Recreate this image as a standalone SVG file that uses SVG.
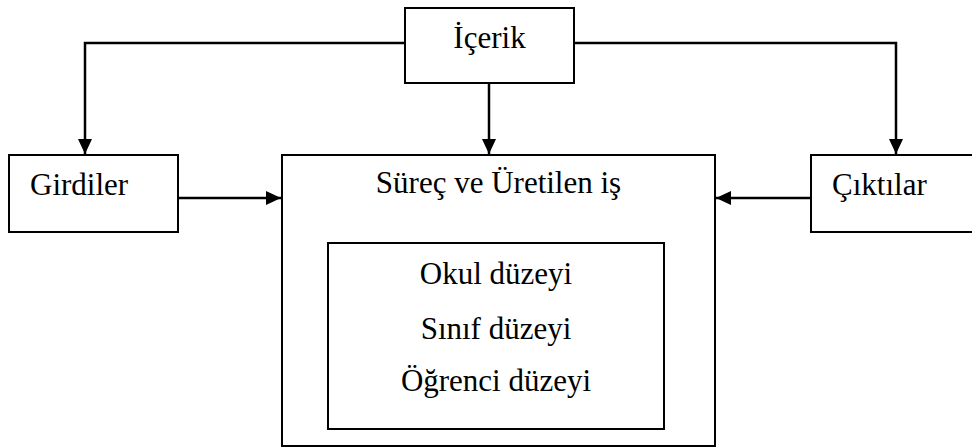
<svg xmlns="http://www.w3.org/2000/svg" width="972" height="448" viewBox="0 0 972 448">
<style>
.box{fill:#fff;stroke:#000;stroke-width:2}
.lbl{font-family:"Liberation Serif","Times New Roman",serif;font-size:31px;fill:#000}
.con{fill:none;stroke:#000;stroke-width:2.5}
</style>
<defs>
<marker id="arr" markerUnits="userSpaceOnUse" markerWidth="16" markerHeight="14" refX="15" refY="7" orient="auto">
<path d="M0,0 L15,7 L0,14 Z" fill="#000"/>
</marker>
</defs>
<rect width="972" height="448" fill="#fff"/>
<g id="connectors">
<path class="con" d="M405,43 H85 V154" marker-end="url(#arr)"/>
<path class="con" d="M574,43 H896 V154" marker-end="url(#arr)"/>
<path class="con" d="M489,84 V154" marker-end="url(#arr)"/>
<path class="con" d="M178,198 H281" marker-end="url(#arr)"/>
<path class="con" d="M811,198 H716" marker-end="url(#arr)"/>
</g>
<g id="icerik">
<rect class="box" x="405" y="8" width="169" height="75"/>
<text class="lbl" x="489.5" y="48" text-anchor="middle">İçerik</text>
</g>
<g id="girdiler">
<rect class="box" x="9" y="155" width="169" height="77"/>
<text class="lbl" x="30" y="195">Girdiler</text>
</g>
<g id="cikti">
<rect class="box" x="811" y="155" width="170" height="77"/>
<text class="lbl" x="832" y="195">Çıktılar</text>
</g>
<g id="surec">
<rect class="box" x="282" y="155" width="433" height="291"/>
<text class="lbl" x="498.5" y="193" text-anchor="middle">Süreç ve Üretilen iş</text>
</g>
<g id="duzeyler">
<rect class="box" x="328" y="243" width="336" height="186"/>
<text class="lbl" x="496" y="284" text-anchor="middle">Okul düzeyi</text>
<text class="lbl" x="496" y="339" text-anchor="middle">Sınıf düzeyi</text>
<text class="lbl" x="496" y="391" text-anchor="middle">Öğrenci düzeyi</text>
</g>
</svg>
